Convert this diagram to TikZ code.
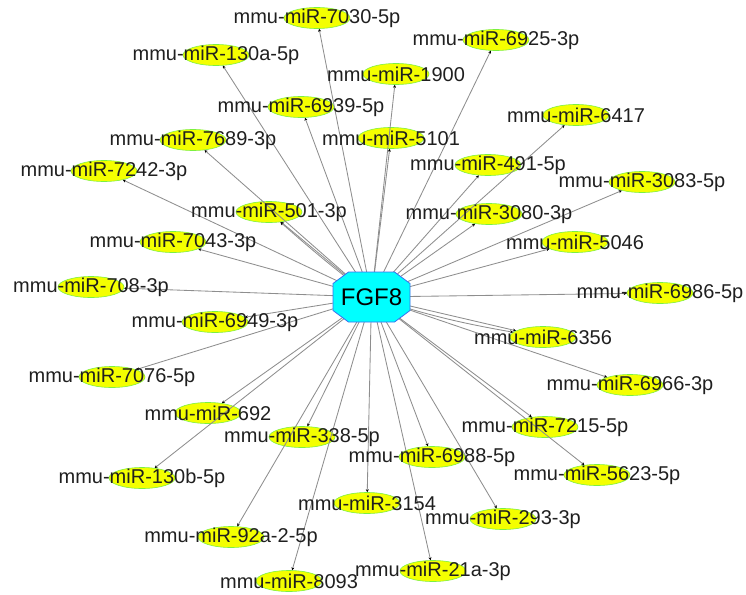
\documentclass[tikz,border=0pt]{standalone}
\usepackage{fontspec}
\setmainfont{Liberation Sans}
\usetikzlibrary{arrows.meta,shapes.geometric}
\definecolor{mirfill}{HTML}{F4FF00}
\definecolor{mirline}{HTML}{7CF040}
\definecolor{hubfill}{HTML}{00FFFF}
\definecolor{hubline}{HTML}{3A6DF0}
\definecolor{edgecol}{HTML}{8E8E8E}
\tikzset{
  mir/.style={ellipse, fill=mirfill, draw=mirline, line width=0.6pt, minimum width=66pt, minimum height=21pt, inner sep=0pt},
  lab/.style={font=\fontsize{20}{22}\selectfont, text=black!88, inner sep=0pt},
  edge/.style={draw=edgecol, line width=0.85pt, -{Stealth[length=3pt,width=3pt,color=black]}},
  hub/.style={rectangle, minimum width=77pt, minimum height=50pt, inner sep=0pt},
  hubshape/.style={fill=hubfill, draw=hubline, line width=0.8pt, line join=round},
  hubtext/.style={font=\fontsize{24}{26}\selectfont, text=black, inner sep=0pt}
}
\def\mirlist{1/317/18/mmu-miR-7030-5p, 2/216/55/mmu-miR-130a-5p, 3/496/40/mmu-miR-6925-3p, 4/396/74/mmu-miR-1900, 5/301/107/mmu-miR-6939-5p, 6/391/138/mmu-miR-5101, 7/193/140/mmu-miR-7689-3p, 8/576/115/mmu-miR-6417, 9/488/165/mmu-miR-491-5p, 10/104/171/mmu-miR-7242-3p, 11/642/182/mmu-miR-3083-5p, 12/269/212/mmu-miR-501-3p, 13/489/214/mmu-miR-3080-3p, 14/173/242/mmu-miR-7043-3p, 15/575/242/mmu-miR-5046, 16/91/287/mmu-miR-708-3p, 17/660/293/mmu-miR-6986-5p, 18/215/322/mmu-miR-6949-3p, 19/543/337/mmu-miR-6356, 20/112/377/mmu-miR-7076-5p, 21/630/385/mmu-miR-6966-3p, 22/208/413/mmu-miR-692, 23/302/437/mmu-miR-338-5p, 24/545/427/mmu-miR-7215-5p, 25/432/457/mmu-miR-6988-5p, 26/142/478/mmu-miR-130b-5p, 27/597/475/mmu-miR-5623-5p, 28/367/503/mmu-miR-3154, 29/503/519/mmu-miR-293-3p, 30/231/537/mmu-miR-92a-2-5p, 31/433/571/mmu-miR-21a-3p, 32/289/581/mmu-miR-8093}
\begin{document}
\begin{tikzpicture}[x=1pt,y=-1pt]
\useasboundingbox (0,0) rectangle (746,594);
\node[hub] (fgf8) at (371.5,297) {};
\foreach \i/\x/\y/\t in \mirlist { \node[mir] (n\i) at (\x,\y) {}; }
\foreach \i/\x/\y/\t in \mirlist { \draw[edge] (fgf8.center) -- (n\i); }
\draw[edge] (fgf8.center) to[bend left=2] (n12);
\draw[edge] (fgf8.center) to[bend right=4] (n19);
\filldraw[hubshape] (fgf8.center) ++(-23,-25) -- ++(46,0) -- ++(15.5,11.5) -- ++(0,27) -- ++(-15.5,11.5) -- ++(-46,0) -- ++(-15.5,-11.5) -- ++(0,-27) -- cycle;
\foreach \i/\x/\y/\t in \mirlist { \node[lab] (t\i) at (n\i.center) {\t}; }
\node[hubtext] (ft) at (fgf8.center) {FGF8};
\end{tikzpicture}
\end{document}
